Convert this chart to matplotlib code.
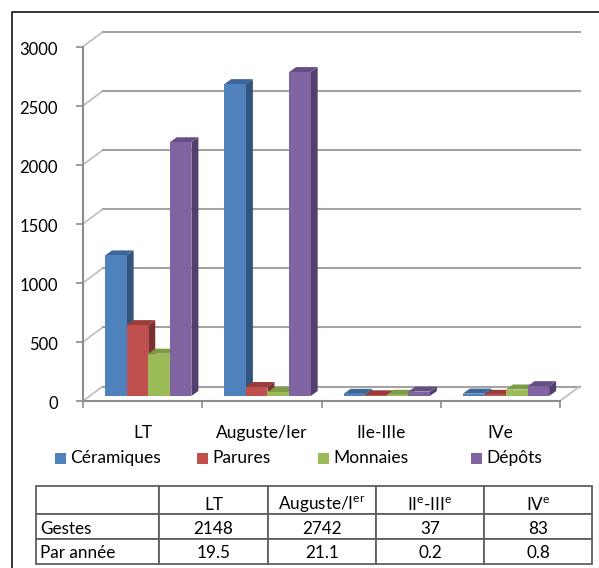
import matplotlib.pyplot as plt
from matplotlib.lines import Line2D
from matplotlib.patches import Rectangle
from matplotlib.table import Table
from matplotlib.transforms import ScaledTranslation

plt.rcParams['font.family'] = ['Lato', 'DejaVu Sans']
plt.rcParams['mathtext.fontset'] = 'custom'
plt.rcParams['mathtext.rm'] = 'Lato'

periods = ['LT', 'Auguste/Ier', 'IIe-IIIe', 'IVe']
series_names = ['Céramiques', 'Parures', 'Monnaies', 'Dépôts']
ceramiques = [1190, 2640, 18, 20]
parures = [600, 76, 6, 10]
monnaies = [358, 34, 10, 55]
depots = [2148, 2742, 37, 83]
y_ticks = [0, 500, 1000, 1500, 2000, 2500, 3000]

table_header = ['', 'LT', r'Auguste/I$^{\mathrm{er}}$', r'II$^{\mathrm{e}}$-III$^{\mathrm{e}}$', r'IV$^{\mathrm{e}}$']
table_gestes = ['Gestes', '2148', '2742', '37', '83']
table_annee = ['Par année', '19.5', '21.1', '0.2', '0.8']

front_colors = ['#4F81BD', '#C0504D', '#9BBB59', '#8064A2']
side_colors = ['#33547C', '#7E2F2E', '#6B8539', '#53406F']
top_colors = ['#3C6699', '#9A3C3A', '#7D9A45', '#664F85']
legend_x = [55, 197, 318, 471]

W, H = 599, 568
fig = plt.figure(figsize=(W / 100, H / 100), dpi=100)

# outer frame, only top and left are visible in the picture
fig.add_artist(Line2D([11.5 / W, 11.5 / W, 1], [0, 1 - 12 / H, 1 - 12 / H], color='black', lw=1.1))

ax = fig.add_axes([83 / W, (H - 401) / H, 477 / W, 354.4 / H])
ax.set_xlim(0, 4)
ax.set_ylim(0, 3000)
ax.patch.set_alpha(0)

# sizes of the fake 3d, pixels turned into data units
px_x = 4 / 477
px_y = 3000 / 354.4
wall_dx, wall_dy = 19.5 * px_x, 14.5 * px_y
bar_dx, bar_dy = 7 * px_x, 5 * px_y
base = 5 * px_y
bar_w = 0.181
bar_start = 0.185

grid_c = '#A3A3A3'
for t in y_ticks:
    ax.plot([0, wall_dx], [t, t + wall_dy], color='#BDBDBD', lw=1.2, clip_on=False, zorder=1)
    ax.plot([wall_dx, 4 + wall_dx], [t + wall_dy, t + wall_dy], color=grid_c, lw=1.5, clip_on=False, zorder=1)
ax.plot([4, 4 + wall_dx], [0, wall_dy], color='#BDBDBD', lw=1.2, clip_on=False, zorder=1)

all_series = [ceramiques, parures, monnaies, depots]
for s, values in enumerate(all_series):
    for i, v in enumerate(values):
        x0 = i + bar_start + s * bar_w
        x1 = x0 + bar_w
        top = base + v
        z = 3 + s
        ax.fill([x1, x1 + bar_dx, x1 + bar_dx, x1],
                [base, base + bar_dy, top + bar_dy, top],
                color=side_colors[s], lw=0, clip_on=False, zorder=z)
        ax.fill([x0, x0 + bar_dx, x1 + bar_dx, x1],
                [top, top + bar_dy, top + bar_dy, top],
                color=top_colors[s], lw=0, clip_on=False, zorder=z)
        ax.bar(x0, v, width=bar_w, bottom=base, align='edge',
               color=front_colors[s], lw=0, clip_on=False, zorder=z)

for side in ['top', 'right']:
    ax.spines[side].set_visible(False)
for side in ['left', 'bottom']:
    ax.spines[side].set_color('#8C8C8C')
    ax.spines[side].set_linewidth(1.5)
    ax.spines[side].set_zorder(2)

ax.set_yticks(y_ticks)
ax.set_xticks(range(5))
ax.set_xticklabels([])
ax.set_xticks([i + 0.5 for i in range(4)], periods, minor=True)
ax.tick_params(axis='x', which='minor', length=0, pad=17, labelsize=12.5)
ax.tick_params(axis='x', which='major', length=5, color='#8C8C8C', width=1.2)
ax.tick_params(axis='y', length=5, color='#8C8C8C', width=1.2, pad=13, labelsize=12)
# labels sit a little under their ticks
for lab in ax.get_yticklabels():
    lab.set_transform(lab.get_transform() + ScaledTranslation(0, -1.5 / 100, fig.dpi_scale_trans))

# legend entries are not evenly spaced, so they are placed one by one
for name, color, lx in zip(series_names, front_colors, legend_x):
    fig.add_artist(Rectangle((lx / W, 1 - 464 / H), 11 / W, 11 / H, color=color, lw=0))
    fig.text((lx + 15) / W, 1 - 458 / H, name, fontsize=12.5, va='center', ha='left')

# table below the chart, text is placed by hand since it sits under the cell centres
tax = fig.add_axes([36 / W, (H - 564) / H, 556 / W, 78 / H])
tax.axis('off')
tax.set_xlim(0, 556)
tax.set_ylim(78, 0)
col_w = [123, 109, 108, 108, 108]
row_h = [28, 25, 25]
text_shift = [5, 2, 2]
tbl = Table(tax, bbox=[0, 0, 1, 1])
row_top = 0
for r, row in enumerate([table_header, table_gestes, table_annee]):
    col_left = 0
    for c, label in enumerate(row):
        cell = tbl.add_cell(r, c, col_w[c] / 556, row_h[r] / 78)
        cell.set_edgecolor('#5F5F5F')
        cell.set_linewidth(1.3)
        y = row_top + row_h[r] / 2 + text_shift[r]
        if c == 0:
            tax.text(col_left + 4, y, label, fontsize=12.3, ha='left', va='center')
        else:
            tax.text(col_left + col_w[c] / 2, y, label, fontsize=12.3, ha='center', va='center')
        col_left += col_w[c]
    row_top += row_h[r]
tax.add_table(tbl)

fig.savefig('out.png', dpi=100)
plt.close()
